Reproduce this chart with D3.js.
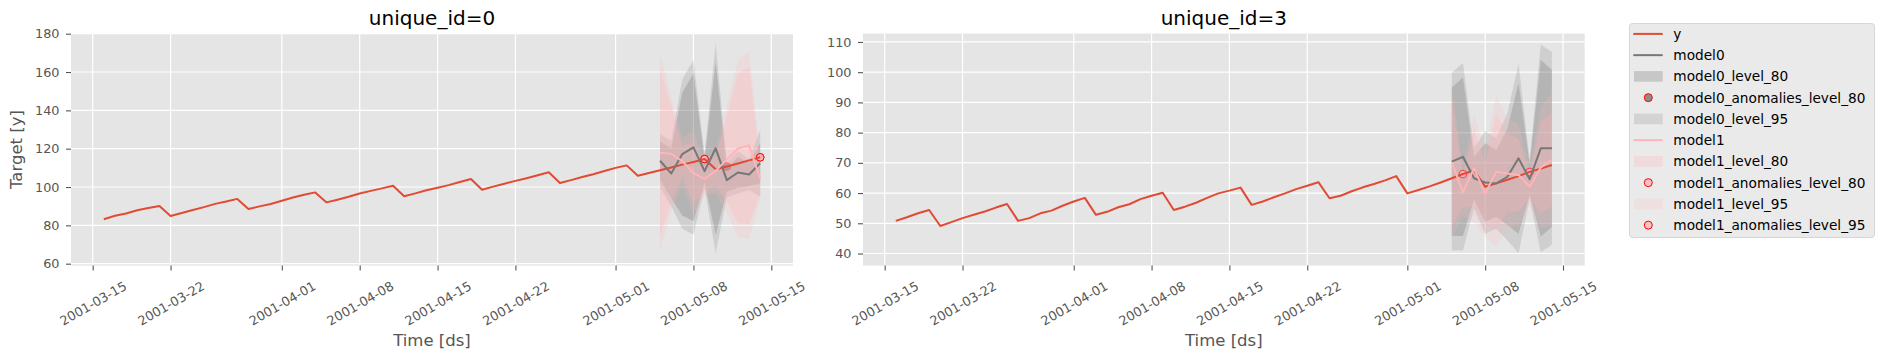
<!DOCTYPE html>
<html>
<head>
<meta charset="utf-8">
<script src="https://cdn.jsdelivr.net/npm/d3@7"></script>
<style>
  body { margin: 0; background: #fff; }
  svg text { font-family: "DejaVu Sans", sans-serif; }
</style>
</head>
<body>
<svg id="chart" width="1883" height="361"></svg>
<script>
// ---- data ----
var firstDay = '2001-03-16';
var lastDay = '2001-05-14';
var forecastFirstDay = '2001-05-05';
var xTickLabels = ['2001-03-15', '2001-03-22', '2001-04-01', '2001-04-08', '2001-04-15',
  '2001-04-22', '2001-05-01', '2001-05-08', '2001-05-15'];

// unique_id=0
var id0YTicks = [60, 80, 100, 120, 140, 160, 180];
var id0Y = [83.2, 85.0, 86.2, 87.9, 89.1, 90.1,
  84.9, 86.4, 88.0, 89.5, 91.2, 92.4, 93.8,
  88.5, 89.9, 91.1, 92.8, 94.5, 96.0, 97.2,
  92.0, 93.4, 94.9, 96.6, 98.0, 99.3, 100.7,
  95.2, 96.7, 98.3, 99.6, 101.0, 102.6, 104.2,
  98.6, 100.2, 101.7, 103.2, 104.6, 106.1, 107.7,
  102.1, 103.6, 105.2, 106.7, 108.4, 110.0, 111.3,
  105.9, 107.3, 108.7, 110.2, 111.7, 113.1, 114.6,
  109.3, 110.7, 112.3, 113.9, 115.5];
var id0Model0 = [113.7, 107.1, 117.2, 120.7, 108.3, 120.2, 103.6, 107.6, 106.5, 112.4];
var id0Model0Width80 = [10, 13, 32, 38.6, 6, 45.2, 6, 8, 6, 10.4];
var id0Model0Width95 = [14, 17, 39, 45.6, 9, 54.8, 9, 11, 8, 17.4];
var id0Model1 = [117.9, 117.4, 113.5, 107.3, 104.3, 108.5, 114.3, 120.1, 121.7, 104.3];
var id0Model1Width80 = [43.6, 25, 8, 16, 7, 8, 22, 39, 41, 8];
var id0Model1Width95 = [51.5, 30, 12, 22, 9, 12, 28, 46, 49, 10];
var id0Model0Anom80 = ['2001-05-11'];
var id0Model1Anom80 = ['2001-05-09', '2001-05-14'];
var id0Model1Anom95 = ['2001-05-09', '2001-05-14'];

// unique_id=3
var id3YTicks = [40, 50, 60, 70, 80, 90, 100, 110];
var id3Y = [50.8, 52.0, 53.3, 54.4,
  49.1, 50.4, 51.7, 52.8, 53.9, 55.2, 56.4,
  50.8, 51.7, 53.3, 54.2, 55.8, 57.2, 58.4,
  52.8, 53.8, 55.3, 56.3, 58.0, 59.1, 60.1,
  54.4, 55.5, 56.8, 58.4, 59.9, 60.8, 61.8,
  56.1, 57.2, 58.6, 59.9, 61.3, 62.4, 63.6,
  58.3, 59.1, 60.6, 61.9, 63.0, 64.2, 65.6,
  59.9, 61.0, 62.2, 63.5, 64.9, 66.3, 67.5,
  62.1, 63.2, 64.4, 65.6, 67.0, 68.1, 69.3];
var id3Model0 = [70.4, 72.0, 64.9, 63.5, 63.2, 65.4, 71.5, 64.6, 74.8, 74.8];
var id3Model0Width80 = [24.5, 26.2, 7, 13, 11, 16, 25, 5, 29.2, 26];
var id3Model0Width95 = [29.4, 31, 10, 17, 15, 21, 31.4, 6.5, 34.4, 31.9];
var id3Model1 = [70.2, 60.3, 68.2, 59.8, 67.1, 66.5, 66.0, 62.1, 68.5, 71.0];
var id3Model1Width80 = [21, 5, 13, 10, 19, 13, 12, 4, 15, 15.4];
var id3Model1Width95 = [25, 8, 18, 14, 25, 18, 17, 6, 20, 22];
var id3Model0Anom80 = [];
var id3Model1Anom80 = ['2001-05-06', '2001-05-12'];
var id3Model1Anom95 = [];

// ---- styling ----
var COLOR_Y = '#E24A33';
var COLOR_M0 = '#777777';
var COLOR_M1 = '#FFB5B8';
var PLOT_TOP = 33.5;
var PLOT_BOTTOM = 265.6;
var TICK_FONT = '12.8px';

var parseDate = d3.utcParse('%Y-%m-%d');
var fmtDate = d3.utcFormat('%Y-%m-%d');
var days = d3.utcDay.range(parseDate(firstDay), d3.utcDay.offset(parseDate(lastDay), 1));
var fcDays = days.filter(function(d) { return d >= parseDate(forecastFirstDay); });

// matplotlib-like 5% margin on the date axis
var span = days[days.length - 1] - days[0];
var xDomain = [new Date(+days[0] - span * 0.05), new Date(+days[days.length - 1] + span * 0.05)];

var svg = d3.select('#chart');

function zipSeries(dates, values) {
  return dates.map(function(d, i) { return {date: d, value: values[i]}; });
}

function bandSeries(dates, mean, width) {
  return dates.map(function(d, i) { return {date: d, lo: mean[i] - width[i], hi: mean[i] + width[i]}; });
}

function drawPanel(p) {
  var x = d3.scaleUtc().domain(xDomain).range([p.left, p.right]);
  var y = d3.scaleLinear().domain(p.yDomain).range([PLOT_BOTTOM, PLOT_TOP]);
  var g = svg.append('g');
  var xTicks = xTickLabels.map(parseDate);

  //Background + grid
  g.append('rect')
    .attr('x', p.left).attr('y', PLOT_TOP)
    .attr('width', p.right - p.left).attr('height', PLOT_BOTTOM - PLOT_TOP)
    .attr('fill', '#e5e5e5');

  g.selectAll('.gridx').data(xTicks).enter().append('line')
    .attr('x1', function(d) { return x(d); }).attr('x2', function(d) { return x(d); })
    .attr('y1', PLOT_TOP).attr('y2', PLOT_BOTTOM)
    .attr('stroke', '#fff').attr('stroke-width', 1.2);

  g.selectAll('.gridy').data(p.yTicks).enter().append('line')
    .attr('x1', p.left).attr('x2', p.right)
    .attr('y1', function(d) { return y(d); }).attr('y2', function(d) { return y(d); })
    .attr('stroke', '#fff').attr('stroke-width', 1.2);

  //Axes
  var xAxis = g.append('g')
    .attr('transform', 'translate(0,' + PLOT_BOTTOM + ')')
    .call(d3.axisBottom(x).tickValues(xTicks).tickFormat(fmtDate).tickSize(5));
  xAxis.select('.domain').remove();
  xAxis.selectAll('line').attr('stroke', '#555555').attr('stroke-width', 1.1);
  xAxis.selectAll('text')
    .attr('y', null).attr('dy', '0.36em')
    .attr('text-anchor', 'middle')
    .attr('transform', 'translate(0,37.7) rotate(-30)')
    .attr('fill', '#555555').attr('font-size', TICK_FONT);

  var yAxis = g.append('g')
    .attr('transform', 'translate(' + p.left + ',0)')
    .call(d3.axisLeft(y).tickValues(p.yTicks).tickSize(5).tickPadding(6.5));
  yAxis.select('.domain').remove();
  yAxis.selectAll('line').attr('stroke', '#555555').attr('stroke-width', 1.1);
  yAxis.selectAll('text').attr('fill', '#555555').attr('font-size', TICK_FONT);

  //Bands and anomaly dots, in the order they were added
  var area = d3.area()
    .x(function(d) { return x(d.date); })
    .y0(function(d) { return y(d.lo); })
    .y1(function(d) { return y(d.hi); });

  var yLookup = {};
  days.forEach(function(d, i) { yLookup[fmtDate(d)] = p.y[i]; });

  p.layers.forEach(function(layer) {
    if (layer.type === 'band') {
      g.append('path')
        .datum(bandSeries(fcDays, layer.mean, layer.width))
        .attr('d', area)
        .attr('fill', layer.color)
        .attr('fill-opacity', layer.opacity);
    } else {
      g.selectAll(null).data(layer.dates).enter().append('circle')
        .attr('cx', function(d) { return x(parseDate(d)); })
        .attr('cy', function(d) { return y(yLookup[d]); })
        .attr('r', 3.8)
        .attr('fill', layer.color)
        .attr('stroke', 'red').attr('stroke-width', 1)
        .attr('opacity', layer.opacity);
    }
  });

  //Lines on top
  var line = d3.line()
    .x(function(d) { return x(d.date); })
    .y(function(d) { return y(d.value); });

  [[zipSeries(days, p.y), COLOR_Y],
   [zipSeries(fcDays, p.model0), COLOR_M0],
   [zipSeries(fcDays, p.model1), COLOR_M1]].forEach(function(s) {
    g.append('path').datum(s[0])
      .attr('d', line)
      .attr('fill', 'none')
      .attr('stroke', s[1])
      .attr('stroke-width', 2)
      .attr('stroke-linejoin', 'round');
  });

  //Titles
  var cx = (p.left + p.right) / 2;
  g.append('text').text(p.title)
    .attr('x', cx).attr('y', 25)
    .attr('text-anchor', 'middle')
    .attr('font-size', '20px').attr('fill', '#000');

  g.append('text').text('Time [ds]')
    .attr('x', cx).attr('y', 346)
    .attr('text-anchor', 'middle')
    .attr('font-size', '16.5px').attr('fill', '#555555');

  if (p.yLabel) {
    g.append('text').text(p.yLabel)
      .attr('transform', 'translate(22,' + ((PLOT_TOP + PLOT_BOTTOM) / 2) + ') rotate(-90)')
      .attr('text-anchor', 'middle')
      .attr('font-size', '16.5px').attr('fill', '#555555');
  }
}

function panelLayers(m0, m0w80, m0w95, m0a80, m1, m1w80, m1w95, m1a80, m1a95) {
  return [
    {type: 'band', mean: m0, width: m0w80, color: COLOR_M0, opacity: 0.3},
    {type: 'dots', dates: m0a80, color: COLOR_M0, opacity: 0.8},
    {type: 'band', mean: m0, width: m0w95, color: COLOR_M0, opacity: 0.2},
    {type: 'band', mean: m1, width: m1w80, color: COLOR_M1, opacity: 0.3},
    {type: 'dots', dates: m1a80, color: COLOR_M1, opacity: 0.8},
    {type: 'band', mean: m1, width: m1w95, color: COLOR_M1, opacity: 0.2},
    {type: 'dots', dates: m1a95, color: COLOR_M1, opacity: 0.95}
  ];
}

drawPanel({
  title: 'unique_id=0', yLabel: 'Target [y]',
  left: 71, right: 793, yDomain: [59.0, 180.1], yTicks: id0YTicks,
  y: id0Y, model0: id0Model0, model1: id0Model1,
  layers: panelLayers(id0Model0, id0Model0Width80, id0Model0Width95, id0Model0Anom80,
    id0Model1, id0Model1Width80, id0Model1Width95, id0Model1Anom80, id0Model1Anom95)
});

drawPanel({
  title: 'unique_id=3', yLabel: null,
  left: 863, right: 1584.7, yDomain: [36.0, 112.8], yTicks: id3YTicks,
  y: id3Y, model0: id3Model0, model1: id3Model1,
  layers: panelLayers(id3Model0, id3Model0Width80, id3Model0Width95, id3Model0Anom80,
    id3Model1, id3Model1Width80, id3Model1Width95, id3Model1Anom80, id3Model1Anom95)
});

//Legend
var legendItems = [
  {label: 'y', kind: 'line', color: COLOR_Y},
  {label: 'model0', kind: 'line', color: COLOR_M0},
  {label: 'model0_level_80', kind: 'patch', color: COLOR_M0, opacity: 0.3},
  {label: 'model0_anomalies_level_80', kind: 'dot', color: COLOR_M0},
  {label: 'model0_level_95', kind: 'patch', color: COLOR_M0, opacity: 0.2},
  {label: 'model1', kind: 'line', color: COLOR_M1},
  {label: 'model1_level_80', kind: 'patch', color: COLOR_M1, opacity: 0.3},
  {label: 'model1_anomalies_level_80', kind: 'dot', color: COLOR_M1},
  {label: 'model1_level_95', kind: 'patch', color: COLOR_M1, opacity: 0.2},
  {label: 'model1_anomalies_level_95', kind: 'dot', color: COLOR_M1}
];

var legend = svg.append('g');
legend.append('rect')
  .attr('x', 1629.5).attr('y', 23.5)
  .attr('width', 245).attr('height', 214)
  .attr('rx', 3)
  .attr('fill', '#eaeaea')
  .attr('stroke', '#d6d6d6').attr('stroke-width', 1);

var rows = legend.selectAll('.row').data(legendItems).enter().append('g')
  .attr('transform', function(d, i) { return 'translate(0,' + (33.9 + i * 21.25) + ')'; });

rows.each(function(d) {
  var r = d3.select(this);
  if (d.kind === 'line') {
    r.append('line').attr('x1', 1633.3).attr('x2', 1662.7)
      .attr('stroke', d.color).attr('stroke-width', 2);
  } else if (d.kind === 'patch') {
    r.append('rect').attr('x', 1634).attr('y', -5.3)
      .attr('width', 28.7).attr('height', 10.6)
      .attr('fill', d.color).attr('fill-opacity', d.opacity);
  } else {
    r.append('circle').attr('cx', 1648.3).attr('cy', 0).attr('r', 4)
      .attr('fill', d.color).attr('fill-opacity', 0.8)
      .attr('stroke', 'red').attr('stroke-width', 1);
  }
  r.append('text').text(d.label)
    .attr('x', 1673.3).attr('dy', '0.36em')
    .attr('font-size', '13.7px').attr('fill', '#000');
});
</script>
</body>
</html>
